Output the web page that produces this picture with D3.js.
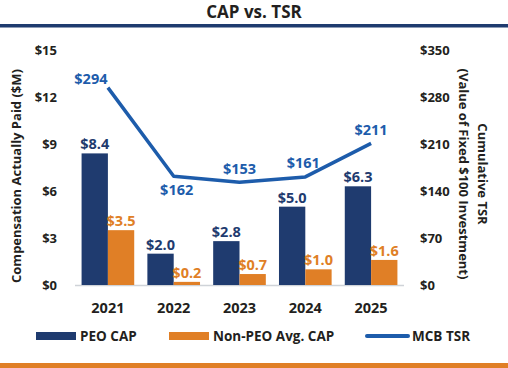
<!DOCTYPE html>
<html lang="en">
<head>
<meta charset="UTF-8" />
<title>CAP vs. TSR</title>
<style>
  html, body { margin: 0; padding: 0; background: #fff; }
  svg { display: block; font-family: "Open Sans", sans-serif; font-weight: 700; }
</style>
</head>
<body>
<svg width="508" height="368"></svg>
<script src="https://d3js.org/d3.v7.min.js"></script>
<script>
  const years = ["2021", "2022", "2023", "2024", "2025"];
  const peoCap = [8.4, 2.0, 2.8, 5.0, 6.3];
  const nonPeoCap = [3.5, 0.2, 0.7, 1.0, 1.6];
  const tsr = [294, 162, 153, 161, 211];
  const leftTicks = [0, 3, 6, 9, 12, 15];
  const rightTicks = [0, 70, 140, 210, 280, 350];

  const navy = "#1f3b6f", orange = "#e07f26", blue = "#1d5cab", ink = "#231f20";

  const svg = d3.select("svg");
  const W = 508, H = 368;

  // title + rules
  svg.append("text").attr("x", W / 2).attr("y", 18).attr("text-anchor", "middle")
    .attr("font-size", 17).attr("fill", ink).text("CAP vs. TSR");
  svg.append("rect").attr("x", 0).attr("y", 24).attr("width", W).attr("height", 3.5).attr("fill", navy);
  svg.append("rect").attr("x", 0).attr("y", 363).attr("width", W).attr("height", 5).attr("fill", orange);

  const x = d3.scaleBand().domain(years).range([75, 404]).paddingInner(0.2).paddingOuter(0.1);
  const yL = d3.scaleLinear().domain([0, 15]).range([285, 50]);
  const yR = d3.scaleLinear().domain([0, 350]).range([285, 50]);
  const half = x.bandwidth() / 2;

  // tick labels
  const leftAxis = svg.append("g").attr("transform", "translate(57,0)")
    .call(d3.axisLeft(yL).tickValues(leftTicks).tickSize(0).tickPadding(0).tickFormat(d => "$" + d));
  const rightAxis = svg.append("g").attr("transform", "translate(420,0)")
    .call(d3.axisRight(yR).tickValues(rightTicks).tickSize(0).tickPadding(0).tickFormat(d => "$" + d));
  [leftAxis, rightAxis].forEach(a => {
    a.select(".domain").remove();
    a.selectAll("text").attr("font-size", 13).attr("font-family", "Open Sans").attr("font-weight", 700).attr("fill", ink);
  });

  // axis titles
  svg.append("text").attr("transform", "translate(21,176) rotate(-90)").attr("text-anchor", "middle")
    .attr("font-size", 13).attr("fill", ink).text("Compensation Actually Paid ($M)");
  const rt = svg.append("text").attr("transform", "translate(478,174) rotate(90)").attr("text-anchor", "middle")
    .attr("font-size", 13).attr("fill", ink);
  rt.append("tspan").attr("x", 0).attr("dy", 0).text("Cumulative TSR");
  rt.append("tspan").attr("x", 0).attr("dy", 19.5).text("(Value of Fixed $100 Investment)");

  // baseline
  svg.append("line").attr("x1", 75).attr("x2", 404).attr("y1", 285.5).attr("y2", 285.5)
    .attr("stroke", "#cfd3d8").attr("stroke-width", 1.5);

  // bars
  const groups = years.map((y, i) => ({ year: y, peo: peoCap[i], non: nonPeoCap[i], tsr: tsr[i] }));
  svg.selectAll(".peo").data(groups).join("rect")
    .attr("x", d => x(d.year)).attr("width", half)
    .attr("y", d => yL(d.peo)).attr("height", d => yL(0) - yL(d.peo)).attr("fill", navy);
  svg.selectAll(".non").data(groups).join("rect")
    .attr("x", d => x(d.year) + half).attr("width", half)
    .attr("y", d => yL(d.non)).attr("height", d => yL(0) - yL(d.non)).attr("fill", orange);

  svg.selectAll(".peoLbl").data(groups).join("text")
    .attr("x", d => x(d.year) + half / 2).attr("y", d => yL(d.peo) - 4).attr("text-anchor", "middle")
    .attr("font-size", 14.5).attr("fill", navy).text(d => "$" + d.peo.toFixed(1));
  svg.selectAll(".nonLbl").data(groups).join("text")
    .attr("x", d => x(d.year) + half * 1.5).attr("y", d => yL(d.non) - 4).attr("text-anchor", "middle")
    .attr("font-size", 14.5).attr("fill", orange).text(d => "$" + d.non.toFixed(1));

  // year labels
  svg.selectAll(".yr").data(years).join("text")
    .attr("x", d => x(d) + x.bandwidth() / 2).attr("y", 313).attr("text-anchor", "middle")
    .attr("font-size", 14.5).attr("fill", ink).text(d => d);

  // TSR line
  const cx = d => x(d.year) + half;
  svg.append("path").datum(groups)
    .attr("d", d3.line().x(cx).y(d => yR(d.tsr)))
    .attr("fill", "none").attr("stroke", blue).attr("stroke-width", 3.5).attr("stroke-linejoin", "round");

  const tsrOffsets = [[-17, -4], [3, 19], [0, -8], [-2, -9], [0, -8]];
  svg.selectAll(".tsrLbl").data(groups).join("text")
    .attr("x", (d, i) => cx(d) + tsrOffsets[i][0]).attr("y", (d, i) => yR(d.tsr) + tsrOffsets[i][1])
    .attr("text-anchor", "middle").attr("font-size", 14.5).attr("fill", blue).text(d => "$" + d.tsr);

  // legend
  const lg = svg.append("g").attr("font-size", 13.5).attr("fill", ink);
  lg.append("rect").attr("x", 36).attr("y", 332).attr("width", 40).attr("height", 8).attr("fill", navy);
  lg.append("text").attr("x", 80).attr("y", 341).text("PEO CAP");
  lg.append("rect").attr("x", 169).attr("y", 332).attr("width", 40).attr("height", 8).attr("fill", orange);
  lg.append("text").attr("x", 213).attr("y", 341).text("Non-PEO Avg. CAP");
  lg.append("line").attr("x1", 367).attr("x2", 408).attr("y1", 336).attr("y2", 336)
    .attr("stroke", blue).attr("stroke-width", 4).attr("stroke-linecap", "round");
  lg.append("text").attr("x", 412).attr("y", 341).text("MCB TSR");
</script>
</body>
</html>
